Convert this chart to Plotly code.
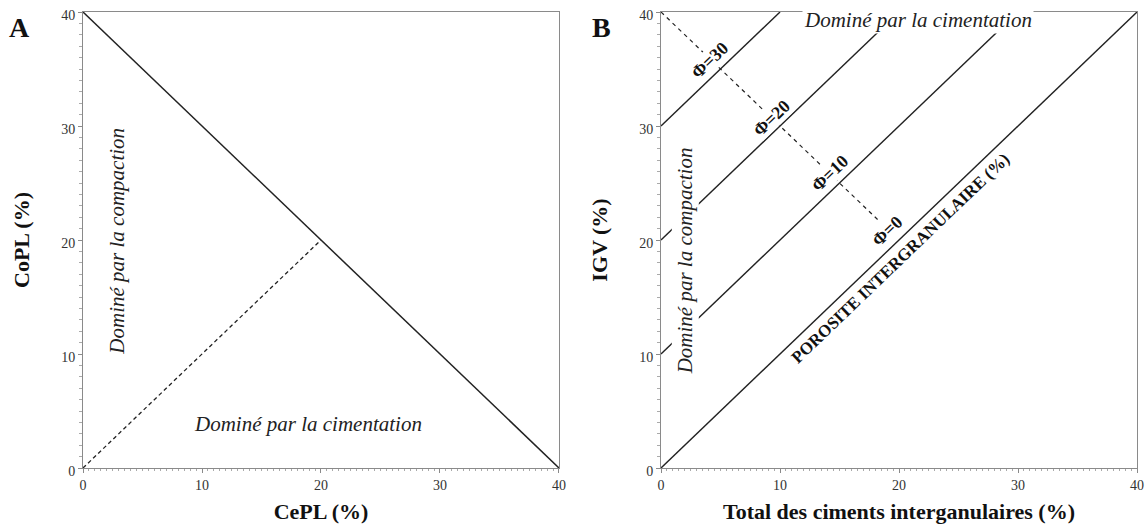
import plotly.graph_objects as go
from plotly.subplots import make_subplots

# Panel A: CePL vs CoPL
a_limit_x = [0, 40]
a_limit_y = [40, 0]
a_split_x = [0, 20]
a_split_y = [0, 20]

# Panel B: porosity lines (IGV = ciments + porosité)
phi_values = [0, 10, 20, 30]
phi_x = [[0, 40], [0, 30], [0, 20], [0, 10]]
phi_y = [[0, 40], [10, 40], [20, 40], [30, 40]]
phi_label_x = [19.0, 14.2, 9.3, 4.1]
phi_label_y = [20.8, 25.9, 30.7, 35.8]
b_perp_x = [0, 18.2]
b_perp_y = [40, 21.8]

tick_vals = [0, 10, 20, 30, 40]
SERIF = "Liberation Serif"

fig = make_subplots(rows=1, cols=2, horizontal_spacing=0.0968)

fig.add_trace(go.Scatter(x=a_limit_x, y=a_limit_y, mode='lines',
                         line=dict(color='#222', width=1.5)), row=1, col=1)
fig.add_trace(go.Scatter(x=a_split_x, y=a_split_y, mode='lines',
                         line=dict(color='#222', width=1.3, dash='4px,3px')), row=1, col=1)

for xs, ys in zip(phi_x, phi_y):
    fig.add_trace(go.Scatter(x=xs, y=ys, mode='lines',
                             line=dict(color='#222', width=1.4)), row=1, col=2)
fig.add_trace(go.Scatter(x=b_perp_x, y=b_perp_y, mode='lines',
                         line=dict(color='#222', width=1.2, dash='4px,4px')), row=1, col=2)

ax_common = dict(range=[0, 40], tickvals=tick_vals, showgrid=False, zeroline=False,
                 showline=True, linecolor='#8a8a8a', linewidth=1, mirror=True,
                 ticks='outside', ticklen=4, tickcolor='#8a8a8a', automargin=False,
                 ticklabeloverflow='allow',
                 tickfont=dict(family=SERIF, size=14, color='#333'))

fig.update_xaxes(**ax_common, minor=dict(dtick=0.5, ticklen=2, ticks='outside', tickcolor='#aaa'))
fig.update_yaxes(**ax_common, ticklabelshift=3,
                 minor=dict(dtick=1, ticklen=3, ticks='outside', tickcolor='#aaa'))

title_font = dict(family=SERIF, size=22, color='#111')
fig.update_xaxes(title=dict(text='<b>CePL (%)</b>', font=title_font, standoff=11), row=1, col=1)
fig.update_xaxes(title=dict(text='<b>Total des ciments interganulaires (%)</b>', font=title_font, standoff=11), row=1, col=2)
fig.update_yaxes(title=dict(text='<b>CoPL (%)</b>', font=title_font, standoff=25), row=1, col=1)
fig.update_yaxes(title=dict(text='<b>IGV (%)</b>', font=title_font, standoff=25), row=1, col=2)

ital = dict(family=SERIF, size=21, color='#222')
notes = [
    dict(x=2.9, y=19.9, xref='x', yref='y', text='<i>Dominé par la compaction</i>', textangle=-90),
    dict(x=18.9, y=3.9, xref='x', yref='y', text='<i>Dominé par la cimentation</i>', textangle=0),
    dict(x=21.6, y=39.3, xref='x2', yref='y2', text='<i>Dominé par la cimentation</i>', textangle=0,
         bgcolor='white'),
    dict(x=2.0, y=18.2, xref='x2', yref='y2', text='<i>Dominé par la compaction</i>', textangle=-90,
         bgcolor='white'),
]
for n in notes:
    fig.add_annotation(showarrow=False, font=ital, **n)

fig.add_annotation(x=20.1, y=18.4, xref='x2', yref='y2', showarrow=False, textangle=-43.8,
                   text='<b>POROSITE INTERGRANULAIRE (%)</b>',
                   font=dict(family=SERIF, size=17, color='#111'))

for v, lx, ly in zip(phi_values, phi_label_x, phi_label_y):
    fig.add_annotation(x=lx, y=ly, xref='x2', yref='y2', showarrow=False, textangle=-43.8,
                       text=f'<b>Φ={v}</b>', bgcolor='white', borderpad=0,
                       font=dict(family=SERIF, size=18, color='#111'))

for letter, px in [('A', -0.060), ('B', 0.4915)]:
    fig.add_annotation(x=px, y=0.967, xref='paper', yref='paper', showarrow=False,
                       xanchor='center', yanchor='middle',
                       text=f'<b>{letter}</b>', font=dict(family=SERIF, size=28, color='#111'))

fig.update_layout(width=1146, height=528, showlegend=False,
                  margin=dict(l=83, r=9, t=12, b=60),
                  plot_bgcolor='white', paper_bgcolor='white')

# drop the browser's default 8px body margin so the figure fills the window
fig.write_html("out.html", config={'displayModeBar': False},
               post_script="document.body.style.margin='0';")
